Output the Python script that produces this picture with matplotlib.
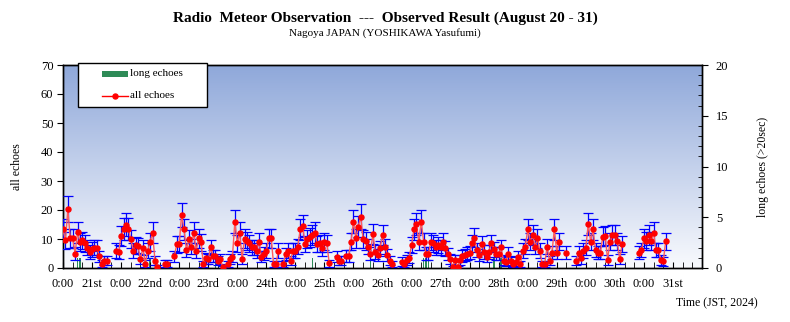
import numpy as np
import matplotlib
matplotlib.use("Agg")
import matplotlib.pyplot as plt
from matplotlib.patches import Rectangle
from matplotlib.lines import Line2D

plt.rcParams['font.family'] = ['Liberation Serif', 'DejaVu Serif']

nan = np.nan
# hourly counts of all echoes, one list per day (JST), Aug 20 .. Aug 30
day20 = [13.3, 9.5, 20.2, 10.2, 10.2, 5, 12.3, 9, 9.5, 8.5, 7, 5.5, 6.5, 7, 7, 4, 1.5, 2.5, 2.5, nan, nan, nan, 6, 5.5]
day21 = [11, 13.5, 15, 13.5, 10, 6, 8, 7.5, 3, 7, 1.5, 6, 9, 12.2, 2.5, 0.4, nan, nan, 1.5, 1.5, nan, nan, 4, 8.2]
day22 = [8.3, 18.3, 13.3, 6.2, 9.9, 7.4, 12.2, 6, 10.2, 8.9, 1.4, 3.3, 3, 7.1, 4.1, 4.3, 2.5, 3.1, 0.3, nan, 1.4, 3, 3.9, 16]
day23 = [8.5, 12.2, 3.1, 10.1, 9.4, 8.5, 7.1, 7.1, 6, 9, 3.9, 5, 6, 10.2, 10.2, 1.4, 1.4, 6, nan, 1.4, 4.8, 6, 2.5, 6]
day24 = [6, 7.4, 13.3, 14.5, 8.3, 9.9, 10.6, 11.4, 12.2, 8.3, 8.5, 6.8, 9.1, 8.5, 1.6, nan, nan, 3.9, 2.5, 2.5, nan, 4.1, 4.1, 9.1]
day25 = [16, 10.2, 14.3, 17.7, 9.9, 9.4, 7.4, 5, 11.7, 5.6, 4.5, 6.8, 11.4, 7.4, 4.5, 2.5, 1.4, nan, nan, nan, 2.2, 1.4, 2.8, 3.5]
day26 = [7.9, 13.3, 15.2, 9.1, 16, 9.1, 5, 5, 9.1, 8.5, 7.1, 7.9, 7.1, 9.1, 6.8, 4.8, 3, 0.3, 2.8, 0.3, 2.8, 4.1, 4.5, 5]
day27 = [5.3, 8.5, 10.5, 6.2, 4.5, 8.3, 5.6, 3.9, 5.6, 8.5, 6.4, 5, 5, 7.1, 2.5, 2.2, 5, 2.5, 1.4, 2.2, 3.9, 1.4, 6, 7.4]
day28 = [13.3, 9.1, 11.4, 7.4, 10.2, 6, 1.4, 1.4, 7.4, 2.5, 5.3, 13.3, 5.3, 9.1, nan, nan, 5.3, nan, nan, nan, 2.5, 5.3, 3.3, 6]
day29 = [7, 15.2, 9.1, 13.3, 6.2, 5.3, 5.3, 10.8, 11.2, 2.9, 9.1, 11.4, 11.4, 9.2, 3, 8.3, nan, nan, nan, nan, nan, nan, 5.3, 6.2]
day30 = [10.2, 9.3, 11.4, 9.4, 12.2, 6.1, 6.1, 2.8, 2.3, 9.2, nan, nan, nan, nan, nan, nan, nan, nan, nan, nan, nan, nan, nan, nan]

# long echoes (>20 s): hour index from Aug 20 0:00 and count
long_hours = [6, 7, 34, 36, 63, 103, 127, 149, 150, 151, 172, 178, 181]
long_counts = [1, 1, 1, 1, 1, 1, 1, 1, 1, 1, 1, 1, 1]

# axis labels
tick_labels = ["0:00", "21st", "0:00", "22nd", "0:00", "23rd", "0:00", "24th", "0:00", "25th",
               "0:00", "26th", "0:00", "27th", "0:00", "28th", "0:00", "29th", "0:00", "30th",
               "0:00", "31st"]

all_echoes = np.array(day20 + day21 + day22 + day23 + day24 + day25 + day26 + day27 + day28 + day29 + day30, dtype=float)
hours = np.arange(len(all_echoes))
errs = np.sqrt(all_echoes)

W, H = 790, 322
fig = plt.figure(figsize=(W / 100, H / 100), dpi=100)
L, R, T, B = 63, 702, 65, 268
pos = [L / W, 1 - B / H, (R - L) / W, (B - T) / H]

ax2 = fig.add_axes(pos)              # back axes: gradient + long echoes (right scale)
ax = fig.add_axes(pos, sharex=ax2)   # front axes: all echoes (left scale)
ax.patch.set_visible(False)

# gradient background
top = np.array([143, 168, 218]) / 255
bot = np.array([249, 250, 253]) / 255
t = np.linspace(0, 1, 256)[:, None]
grad = (top[None, :] * (1 - t) + bot[None, :] * t)[:, None, :]
ax2.imshow(grad, extent=[0, 1, 0, 1], transform=ax2.transAxes, aspect='auto', zorder=0, interpolation='bilinear')

ax2.bar(long_hours, long_counts, width=0.6, color='#2e8b57', zorder=2)
ax2.set_ylim(0, 20)
ax2.set_xlim(0, 264)
ax2.yaxis.tick_right()
ax2.yaxis.set_label_position('right')
ax2.set_yticks([0, 5, 10, 15, 20])
ax2.set_yticks(np.arange(0, 21, 1), minor=True)
ax2.tick_params(axis='y', which='major', direction='out', length=4, labelsize=9, pad=6)
ax2.tick_params(axis='y', which='minor', direction='in', length=3)
ax2.tick_params(axis='x', which='both', bottom=False, labelbottom=False)
ax2.set_ylabel("long echoes (>20sec)", fontsize=8.5)
ax2.yaxis.set_label_coords(1.086, 0.5)

ax.errorbar(hours, all_echoes, yerr=errs, fmt='none', ecolor='#0000ff', elinewidth=0.9,
            capsize=3.6, capthick=0.9, zorder=3)
ax.plot(hours, all_echoes, color='#ff5c5c', lw=1.0, marker='o', markersize=3.6,
        markerfacecolor='#ff0000', markeredgecolor='#ff0000', zorder=4)
ax.set_ylim(0, 70)
ax.set_xlim(0, 264)
ax.set_yticks(np.arange(0, 71, 10))
ax.tick_params(axis='y', which='major', direction='out', length=4, labelsize=9, pad=3, right=False)
ax.set_xticks(np.arange(0, 264, 12))
ax.set_xticklabels(tick_labels)
ax.set_xticks(np.arange(0, 265, 4), minor=True)
ax.tick_params(axis='x', which='major', direction='in', length=4, labelsize=9, pad=7)
ax.tick_params(axis='x', which='minor', direction='in', length=4)
ax.set_ylabel("all echoes", fontsize=8.5)
ax.yaxis.set_label_coords(-0.062, 0.5)
for a in (ax, ax2):
    for s in a.spines.values():
        s.set_linewidth(1.0)
        s.set_color('black')

# legend (drawn box)
lx0, ly0 = (78 - L) / (R - L), (B - 107) / (B - T)
lw_, lh_ = (207 - 78) / (R - L), (107 - 63) / (B - T)
ax.add_patch(Rectangle((lx0, ly0), lw_, lh_, transform=ax.transAxes, facecolor='white',
                       edgecolor='black', lw=1.0, zorder=10, clip_on=False))
hx0, hx1 = (102 - L) / (R - L), (128 - L) / (R - L)
y1 = (B - 74) / (B - T)
y2 = (B - 96) / (B - T)
ax.add_patch(Rectangle((hx0, y1 - 0.015), hx1 - hx0, 0.03, transform=ax.transAxes,
                       facecolor='#2e8b57', edgecolor='none', zorder=11, clip_on=False))
ax.add_line(Line2D([hx0, hx1], [y2, y2], transform=ax.transAxes, color='#ff0000', lw=1.0, zorder=11, clip_on=False))
ax.add_line(Line2D([(hx0 + hx1) / 2], [y2], transform=ax.transAxes, marker='o', markersize=3.6,
                   color='#ff0000', zorder=12, clip_on=False))
tx = (130 - L) / (R - L)
ax.text(tx, y1, "long echoes", transform=ax.transAxes, fontsize=8, va='center', ha='left', zorder=12)
ax.text(tx, y2, "all echoes", transform=ax.transAxes, fontsize=8, va='center', ha='left', zorder=12)

fig.text(385 / W, 1 - 18 / H, "Radio  Meteor Observation  ---  Observed Result (August 20 - 31)",
         ha='center', va='center', fontsize=11, fontweight='bold')
fig.text(385 / W, 1 - 33 / H, "Nagoya JAPAN (YOSHIKAWA Yasufumi)", ha='center', va='center', fontsize=8)
fig.text(758 / W, 1 - 303 / H, "Time (JST, 2024)", ha='right', va='center', fontsize=8.5)

fig.savefig("out.png", dpi=100)
